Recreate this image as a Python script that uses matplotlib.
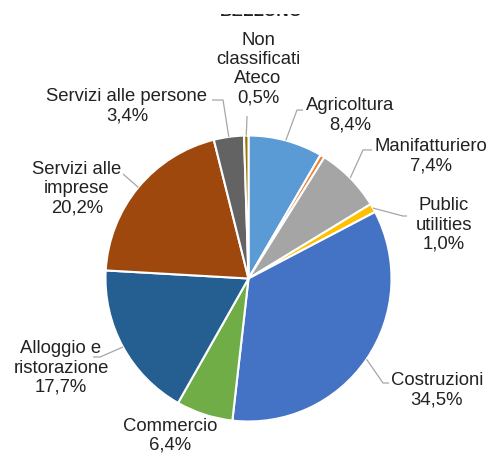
import numpy as np
import matplotlib
matplotlib.use("Agg")
import matplotlib.pyplot as plt
from matplotlib.patches import Rectangle

plt.rcParams['font.family'] = ['Liberation Sans', 'DejaVu Sans']

# data (percent of total)
sectors = ["Agricoltura", "Estrattivo", "Manifatturiero", "Public\nutilities",
           "Costruzioni", "Commercio", "Alloggio e\nristorazione",
           "Servizi alle\nimprese", "Servizi alle persone",
           "Non\nclassificati\nAteco"]
shares = [8.4, 0.5, 7.4, 1.0, 34.5, 6.4, 17.7, 20.2, 3.4, 0.5]
show_label = [True, False, True, True, True, True, True, True, True, True]
colors = ["#5B9BD5", "#ED7D31", "#A5A5A5", "#FFC000", "#4472C4",
          "#70AD47", "#255E91", "#9E480E", "#636363", "#997300"]

# label placement in pie-radius units (text centre, leader points near text)
label_pos = [(0.710, 1.147), None, (1.276, 0.860), (1.367, 0.381),
             (1.318, -0.773), (-0.549, -1.094), (-1.311, -0.619),
             (-1.199, 0.633), (-0.850, 1.213), (0.066, 1.472)]
leader = [[(0.381, 1.178), (0.339, 1.178)], None,
          [(0.864, 0.899), (0.801, 0.899)],
          [(1.108, 0.437), (1.080, 0.437)],
          [(0.983, -0.731), (0.941, -0.731)], None,
          [(-1.087, -0.549), (-1.038, -0.549)],
          [(-0.878, 0.731)],
          [(-0.255, 1.248), (-0.178, 1.248)],
          [(-0.010, 1.136)]]

W, H = 490, 456
CX, CY, R = 248.5, 279.5, 143.0
fig = plt.figure(figsize=(W / 100, H / 100), dpi=100)
ax = fig.add_axes([0, 0, 1, 1])

wedges, _ = ax.pie(shares, colors=colors, startangle=90, counterclock=False,
                   radius=1, center=(0, 0), frame=True,
                   wedgeprops=dict(edgecolor='white', linewidth=1.5))
ax.set_xlim(-CX / R, (W - CX) / R)
ax.set_ylim(-(H - CY) / R, CY / R)
ax.set_aspect('equal')
ax.axis('off')

for i, w in enumerate(wedges):
    if not show_label[i]:
        continue
    txt = "%s\n%s%%" % (sectors[i], ("%.1f" % shares[i]).replace('.', ','))
    tx, ty = label_pos[i]
    ax.text(tx, ty, txt, ha='center', va='center', fontsize=13.3,
            color='#222222', linespacing=1.16)
    if leader[i] is not None:
        mid = np.deg2rad((w.theta1 + w.theta2) / 2)
        pts = leader[i] + [(np.cos(mid), np.sin(mid))]
        xs, ys = zip(*pts)
        ax.plot(xs, ys, color='#A6A6A6', lw=0.9, solid_capstyle='butt')

# chart title, hidden under the plot area in the original except its foot
fig.text(261 / W, 1 - 16.5 / H, "BELLUNO", ha='center', va='baseline',
         fontsize=12.4, fontweight='bold', color='#222222', zorder=1)
fig.add_artist(Rectangle((0, 1 - 15 / H), 1, 15 / H, transform=fig.transFigure,
                         facecolor='white', edgecolor='none', zorder=5))

fig.savefig("out.png", dpi=100)
